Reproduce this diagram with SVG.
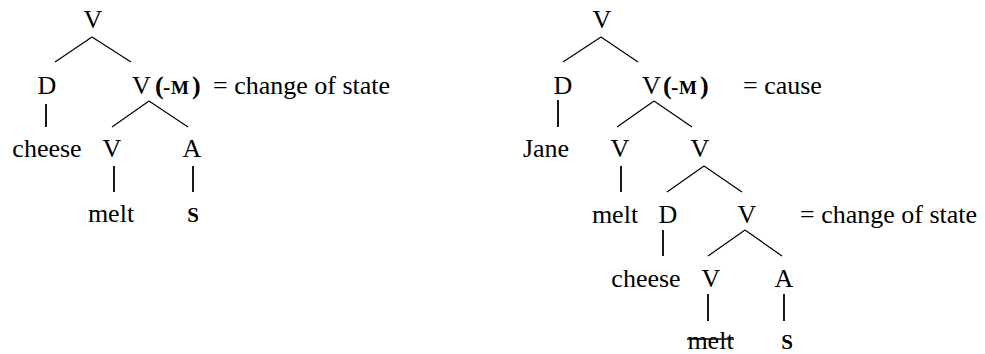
<svg xmlns="http://www.w3.org/2000/svg" width="985" height="354" viewBox="0 0 985 354">
<style>
text{font-family:"Liberation Serif","Times New Roman",serif;font-size:26px;fill:#000}
.m{text-anchor:middle}
.b{font-weight:bold}
.h{font-weight:bold;font-size:22px}
.sc{font-weight:bold;font-size:19px}
.sb{font-weight:bold;font-size:21px}
line{stroke:#000;stroke-width:1.2}
.v{stroke-width:1.8}
</style>
<rect width="985" height="354" fill="#fff"/>
<g id="connectors">
<line x1="92" y1="37" x2="55" y2="62"/><line x1="92" y1="37" x2="131" y2="62"/>
<line class="v" x1="46" y1="104" x2="46" y2="127"/>
<line x1="149" y1="101" x2="112" y2="127"/><line x1="149" y1="101" x2="188" y2="127"/>
<line class="v" x1="114" y1="166" x2="114" y2="192"/><line class="v" x1="193" y1="166" x2="193" y2="192"/>
<line x1="601" y1="37" x2="563" y2="62"/><line x1="601" y1="37" x2="638" y2="62"/>
<line class="v" x1="558" y1="100" x2="558" y2="127"/>
<line x1="654" y1="101" x2="617" y2="127"/><line x1="654" y1="101" x2="692" y2="127"/>
<line class="v" x1="621" y1="166" x2="621" y2="192"/>
<line x1="704" y1="166" x2="667" y2="192"/><line x1="704" y1="166" x2="742" y2="192"/>
<line class="v" x1="663" y1="230" x2="663" y2="256"/>
<line x1="745" y1="230" x2="708" y2="256"/><line x1="745" y1="230" x2="782" y2="256"/>
<line class="v" x1="708" y1="294" x2="708" y2="321"/><line class="v" x1="784" y1="294" x2="784" y2="321"/>
</g>
<g id="left-tree">
<g id="L-V"><text class="m" x="93" y="28">V</text></g>
<g id="L-D"><text class="m" x="47" y="94">D</text></g>
<g id="L-VM"><text x="132" y="94">V</text><text class="b" x="155" y="94">(</text><text class="h" x="163" y="94">-</text><text class="sc" x="171" y="94">M</text><text class="b" x="192" y="94">)</text><text x="213" y="94">= change of state</text></g>
<g id="L-cheese"><text class="m" x="47" y="157">cheese</text></g>
<g id="L-V2"><text class="m" x="112" y="157">V</text></g>
<g id="L-A"><text class="m" x="192" y="157">A</text></g>
<g id="L-melt"><text class="m" x="111" y="222">melt</text></g>
<g id="L-S"><text class="m sb" x="193" y="222">S</text></g>
</g>
<g id="right-tree">
<g id="R-V"><text class="m" x="602" y="28">V</text></g>
<g id="R-D"><text class="m" x="563" y="94">D</text></g>
<g id="R-VM"><text x="642" y="94">V</text><text class="b" x="663" y="94">(</text><text class="h" x="671" y="94">-</text><text class="sc" x="679" y="94">M</text><text class="b" x="700" y="94">)</text><text x="743" y="94">= cause</text></g>
<g id="R-Jane"><text class="m" x="546" y="157">Jane</text></g>
<g id="R-V2"><text class="m" x="620" y="157">V</text></g>
<g id="R-V3"><text class="m" x="700" y="157">V</text></g>
<g id="R-melt"><text class="m" x="615" y="223">melt</text></g>
<g id="R-D2"><text class="m" x="668" y="223">D</text></g>
<g id="R-V4"><text class="m" x="747" y="223">V</text><text x="800" y="223">= change of state</text></g>
<g id="R-cheese"><text class="m" x="646" y="287">cheese</text></g>
<g id="R-V5"><text class="m" x="711" y="287">V</text></g>
<g id="R-A"><text class="m" x="784" y="287">A</text></g>
<g id="R-melt2"><text class="m" x="710.5" y="348.5">melt</text><line x1="687" y1="339" x2="734" y2="339" style="stroke-width:1.5"/></g>
<g id="R-S"><text class="m sb" x="787" y="348.5">S</text></g>
</g>
</svg>
